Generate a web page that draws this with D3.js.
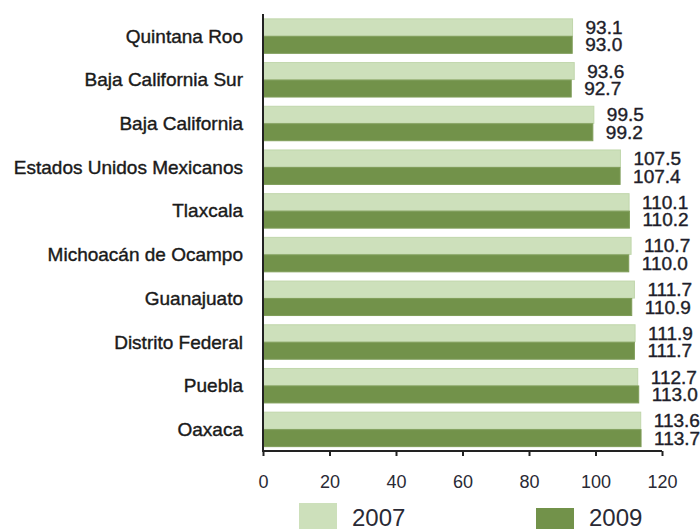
<!DOCTYPE html>
<html><head><meta charset="utf-8">
<script src="https://cdn.jsdelivr.net/npm/d3@7"></script>
<style>html,body{margin:0;padding:0;background:#fff;}svg{display:block;}</style>
</head><body><svg id="c" width="700" height="529"></svg>
<script>
const categories = ["Quintana Roo","Baja California Sur","Baja California","Estados Unidos Mexicanos","Tlaxcala","Michoacán de Ocampo","Guanajuato","Distrito Federal","Puebla","Oaxaca"];
const values2007 = [93.1,93.6,99.5,107.5,110.1,110.7,111.7,111.9,112.7,113.6];
const values2009 = [93.0,92.7,99.2,107.4,110.2,110.0,110.9,111.7,113.0,113.7];
const seriesNames = ["2007","2009"];
const xTicks = [0,20,40,60,80,100,120];

const colors = {"2007":"#cde0bb","2009":"#72924a"};
const strokes = {"2007":"#c0d6ab","2009":"#7f9d59"};
const font = "'Liberation Sans', Arial, sans-serif";
const svg = d3.select("#c");

const x = d3.scaleLinear().domain([0,120]).range([263,662]);
const y = d3.scaleBand().domain(categories).range([14,451]).paddingInner(0.2).paddingOuter(0.1);
const ySub = d3.scaleBand().domain(seriesNames).range([0,y.bandwidth()]);

const data = categories.map((c,i)=>({cat:c, vals:[{s:"2007",v:values2007[i]},{s:"2009",v:values2009[i]}]}));

const g = svg.append("g");
const grp = g.selectAll("g.grp").data(data).join("g").attr("transform",d=>`translate(0,${y(d.cat)})`);
grp.selectAll("rect").data(d=>d.vals).join("rect")
  .attr("x",x(0)).attr("y",d=>ySub(d.s)+0.5)
  .attr("width",d=>x(d.v)-x(0)).attr("height",ySub.bandwidth()-0.5)
  .attr("fill",d=>colors[d.s]).attr("stroke",d=>strokes[d.s]).attr("stroke-width",1);
grp.selectAll("text.val").data(d=>d.vals).join("text").attr("class","val")
  .attr("x",d=>x(d.v)+13).attr("y",d=>ySub(d.s)+ySub.bandwidth()/2)
  .attr("dy","0.36em").attr("font-family",font).attr("font-size",19)
  .attr("fill","#1e1e2a").attr("stroke","#1e1e2a").attr("stroke-width",0.4)
  .text(d=>d.v.toFixed(1));

// category labels
g.selectAll("text.cat").data(categories).join("text").attr("class","cat")
  .attr("x",243).attr("y",d=>y(d)+y.bandwidth()/2).attr("dy","0.36em")
  .attr("text-anchor","end").attr("font-family",font).attr("font-size",19)
  .attr("fill","#1a1a1a").attr("stroke","#1a1a1a").attr("stroke-width",0.4).text(d=>d);

// axes
const xAxis = d3.axisBottom(x).tickValues(xTicks).tickSize(5).tickPadding(19);
const ax = svg.append("g").attr("transform","translate(0,451)").call(xAxis);
ax.select(".domain").attr("stroke","#222").attr("stroke-width",2).attr("d",`M${x(0)},0H${x(120)}`);
ax.selectAll(".tick line").attr("stroke","#222").attr("stroke-width",2);
ax.selectAll(".tick text").attr("font-family",font).attr("font-size",18).attr("fill","#2a2a35");

svg.append("line").attr("x1",x(0)).attr("x2",x(0)).attr("y1",14).attr("y2",452)
  .attr("stroke","#222").attr("stroke-width",2);

// legend
const legendX = [299,536];
const legendY = [503,508];
seriesNames.forEach((s,i)=>{
  svg.append("rect").attr("x",legendX[i]).attr("y",legendY[i]).attr("width",38).attr("height",30).attr("fill",colors[s]);
  svg.append("text").attr("x",legendX[i]+53).attr("y",526).attr("font-family",font).attr("font-size",24)
    .attr("fill","#2a2a35").text(s);
});
</script></body></html>
